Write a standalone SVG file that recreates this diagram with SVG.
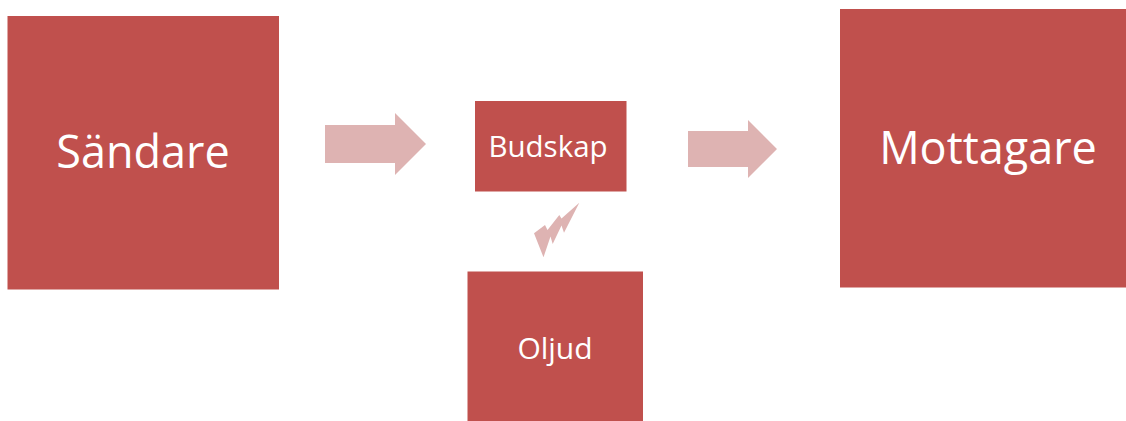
<svg xmlns="http://www.w3.org/2000/svg" width="1126" height="421" viewBox="0 0 1126 421">
  <style>
    .box { fill: #C0504D; }
    .flow { fill: #DEB3B2; }
    .lbl { fill: #FFFFFF; font-family: "Open Sans", "Liberation Sans", sans-serif; text-anchor: middle; }
  </style>
  <rect width="1126" height="421" fill="#FFFFFF"/>

  <!-- connectors: block arrows and the noise bolt -->
  <g id="connectors">
    <polygon class="flow" points="325,125 395,125 395,113 426,144 395,175 395,163 325,163"/>
    <polygon class="flow" points="688,131 748,131 748,120 777,149 748,178 748,167 688,167"/>
    <polygon class="flow" points="579.3,202.7 564,232.7 561.5,225.5 552.7,244 550.5,236.5 543.5,257.3 534,233.3 545,225 547.5,230 559.3,215 561.5,218.5"/>
  </g>

  <g id="sandare">
    <rect class="box" x="7.5" y="16" width="271.5" height="273.5"/>
    <text class="lbl" x="143" y="168" font-size="45">Sändare</text>
  </g>

  <g id="budskap">
    <rect class="box" x="475" y="101" width="151.5" height="90.5"/>
    <text class="lbl" x="548" y="156.5" font-size="29.5">Budskap</text>
  </g>

  <g id="oljud">
    <rect class="box" x="467.5" y="271.5" width="175.5" height="149.5"/>
    <text class="lbl" x="555" y="358.5" font-size="30">Oljud</text>
  </g>

  <g id="mottagare">
    <rect class="box" x="840" y="9" width="286" height="278.5"/>
    <text class="lbl" x="988" y="163.5" font-size="45">Mottagare</text>
  </g>
</svg>
